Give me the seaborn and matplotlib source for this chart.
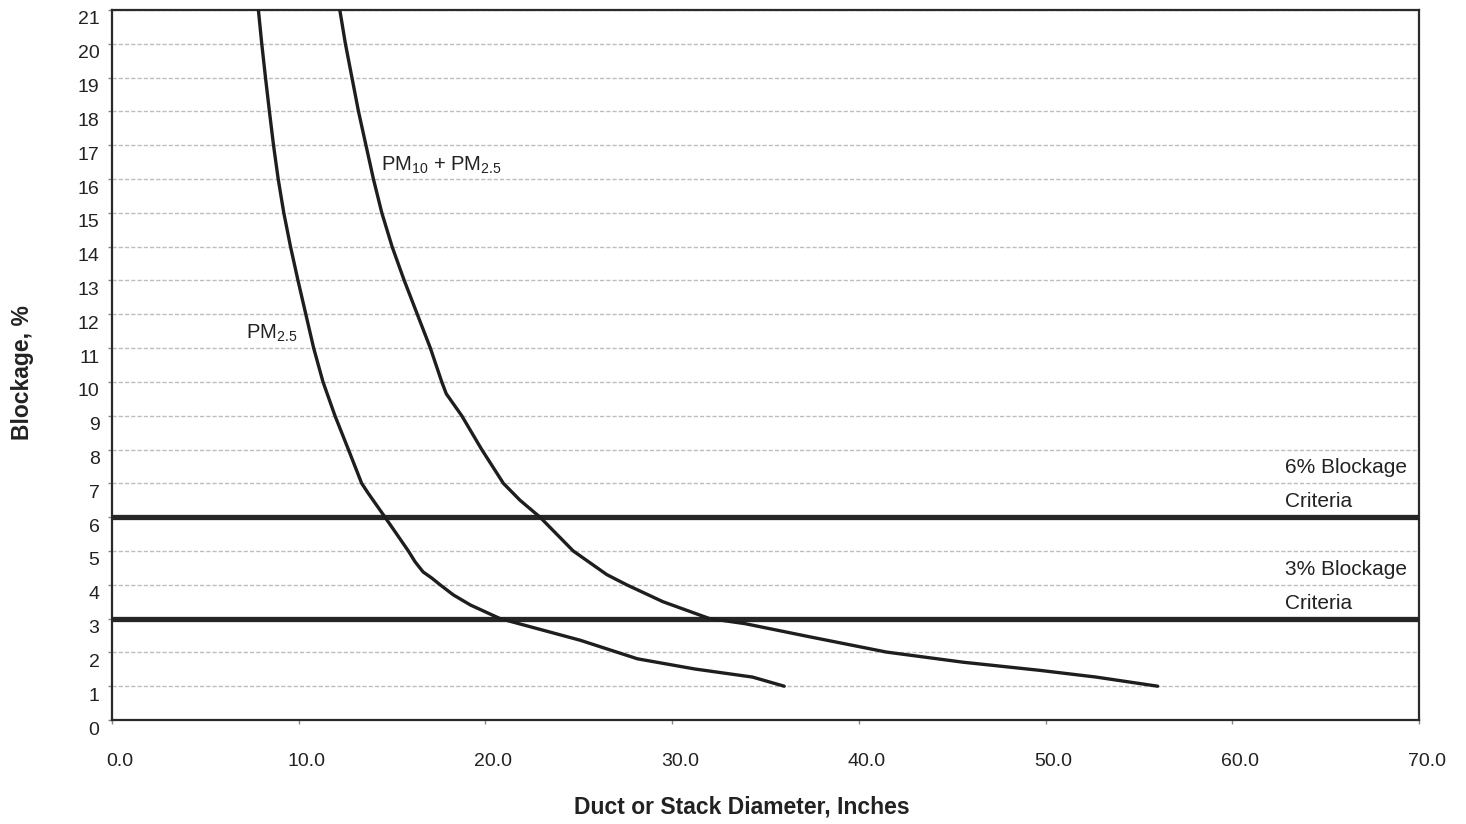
import numpy as np
import pandas as pd
import seaborn as sns
import matplotlib.pyplot as plt
from matplotlib.transforms import ScaledTranslation

# curve data (diameter in inches, blockage in %)
pm25_x = [7.84, 8.02, 8.22, 8.43, 8.65, 8.9, 9.2, 9.56, 9.96, 10.38, 10.8, 11.3,
          11.94, 12.66, 13.37, 13.73, 14.62, 15.87, 16.23, 16.66, 17.12, 17.57,
          18.28, 19.2, 20.78, 25.07, 28.14, 31.2, 34.3, 36.0]
pm25_y = [21, 20, 19, 18, 17, 16, 15, 14, 13, 12, 11, 10,
          9, 8, 7, 6.7, 6, 5, 4.68, 4.38, 4.2, 4.0,
          3.7, 3.4, 3, 2.36, 1.81, 1.51, 1.27, 1.0]

pm10_x = [12.2, 12.5, 12.85, 13.2, 13.6, 14.0, 14.45, 15.0, 15.65, 16.35, 17.05,
          17.66, 17.9, 18.73, 19.8, 20.96, 21.85, 22.92, 24.7, 26.5, 27.56, 29.5,
          32.0, 33.9, 37.37, 41.47, 45.57, 49.67, 52.7, 56.0]
pm10_y = [21, 20, 19, 18, 17, 16, 15, 14, 13, 12, 11,
          10, 9.65, 9, 8, 7, 6.5, 6, 5, 4.3, 4, 3.5,
          3, 2.85, 2.46, 2.01, 1.71, 1.47, 1.27, 1.0]

criteria = [6, 3]
x_ticks = [0, 10, 20, 30, 40, 50, 60, 70]
y_ticks = list(range(0, 22))

df = pd.concat([
    pd.DataFrame({'diameter': pm25_x, 'blockage': pm25_y, 'series': 'PM2.5'}),
    pd.DataFrame({'diameter': pm10_x, 'blockage': pm10_y, 'series': 'PM10+PM2.5'}),
])

sns.set_style("white")
plt.rcParams['font.family'] = ['Liberation Sans', 'DejaVu Sans']
plt.rcParams['mathtext.fontset'] = 'custom'
plt.rcParams['mathtext.rm'] = 'Liberation Sans'

fig = plt.figure(figsize=(14.66, 8.24), dpi=100)
ax = fig.add_axes([0.0764, 0.1262, 0.8916, 0.8617])

# light dashed gridlines at every integer
for yv in y_ticks[1:]:
    ax.axhline(yv, color='#bdbdbd', lw=1.0, ls=(0, (3, 1.5)), zorder=1)

for c in criteria:
    ax.axhline(c, color='#262626', lw=3.8, zorder=3)

sns.lineplot(data=df, x='diameter', y='blockage', units='series', estimator=None,
             sort=False, color='#1e1e1e', lw=2.4, ax=ax, zorder=4)

ax.set_xlim(0, 70)
ax.set_ylim(0, 21)
ax.set_xticks(x_ticks)
ax.set_xticklabels([f'{v:.1f}' for v in x_ticks])
ax.set_yticks(y_ticks)
ax.set_yticklabels([str(v) for v in y_ticks])
ax.tick_params(axis='x', direction='out', length=3, width=1, color='#888888',
               pad=21, labelsize=14, labelcolor='#222222', bottom=True)
ax.tick_params(axis='y', direction='out', length=3, width=1, color='#888888',
               pad=6, labelsize=14, labelcolor='#222222', left=True)

for lab in ax.get_xticklabels():
    lab.set_transform(lab.get_transform() + ScaledTranslation(8 / 100, 0, fig.dpi_scale_trans))
for lab in ax.get_yticklabels():
    lab.set_transform(lab.get_transform() + ScaledTranslation(0, -8 / 100, fig.dpi_scale_trans))

for s in ax.spines.values():
    s.set_color('#2a2a2a')
    s.set_linewidth(1.6)

ax.set_xlabel('Duct or Stack Diameter, Inches', fontsize=16.5, fontweight='bold', color='#222222')
ax.set_ylabel('Blockage, %', fontsize=16.5, fontweight='bold', color='#222222')
ax.xaxis.set_label_coords(0.482, -0.106)
ax.yaxis.set_label_coords(-0.060, 0.49)

ax.text(14.4, 16.4, r'PM$_{\mathregular{10}}$ + PM$_{\mathregular{2.5}}$', fontsize=14.5,
        color='#222222', ha='left', va='center')
ax.text(7.2, 11.45, r'PM$_{\mathregular{2.5}}$', fontsize=14.5, color='#222222',
        ha='left', va='center')

for c in criteria:
    ax.text(62.8, c + 1.46, f'{c}% Blockage', fontsize=15, color='#222222', ha='left', va='center')
    ax.text(62.8, c + 0.45, 'Criteria', fontsize=15, color='#222222', ha='left', va='center')

fig.savefig('out.png', dpi=100, facecolor='white')
